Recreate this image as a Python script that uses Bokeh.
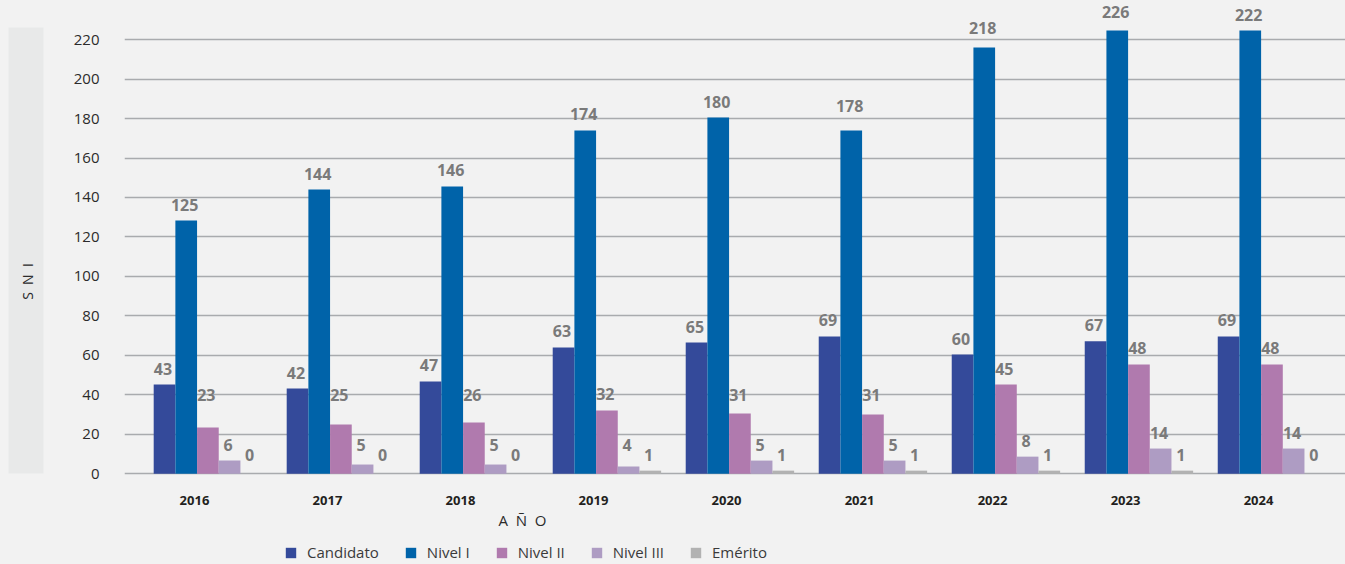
import numpy as np
from bokeh.plotting import figure
from bokeh.layouts import row
from bokeh.models import Range1d, FixedTicker, ColumnDataSource, Legend, LegendItem, Label
from bokeh.core.properties import value
from bokeh.embed import file_html
from bokeh.resources import INLINE

# ---------------- data ----------------
years = ["2016", "2017", "2018", "2019", "2020", "2021", "2022", "2023", "2024"]
series = ["Candidato", "Nivel I", "Nivel II", "Nivel III", "Emérito"]

# bar heights as drawn in the picture
candidato = [45.2, 43.2, 46.8, 64.0, 66.5, 69.6, 60.4, 67.1, 69.6]
nivel_1 = [128.3, 144.0, 145.6, 173.9, 180.5, 173.9, 216.0, 224.6, 224.6]
nivel_2 = [23.5, 25.0, 26.0, 32.1, 30.5, 30.0, 45.2, 55.4, 55.4]
nivel_3 = [6.7, 4.7, 4.7, 3.7, 6.7, 6.7, 8.7, 12.8, 12.8]
emerito = [0, 0, 0, 1.6, 1.6, 1.6, 1.6, 1.6, 0]

# value labels printed above the bars
labels_candidato = [43, 42, 47, 63, 65, 69, 60, 67, 69]
labels_nivel_1 = [125, 144, 146, 174, 180, 178, 218, 226, 222]
labels_nivel_2 = [23, 25, 26, 32, 31, 31, 45, 48, 48]
labels_nivel_3 = [6, 5, 5, 4, 5, 5, 8, 14, 14]
labels_emerito = [0, 0, 0, 1, 1, 1, 1, 1, 0]

y_ticks = [0, 20, 40, 60, 80, 100, 120, 140, 160, 180, 200, 220]

# ---------------- style ----------------
BG = "#F2F2F2"
BAND = "#E8E9E9"
colors = ["#344A9A", "#0063A9", "#B07AAE", "#AE9CC3", "#B2B2B2"]
offsets = [-0.225, -0.062, 0.101, 0.264, 0.427]
bar_w = 0.163
label_floor = [0, 0, 32, 6.5, 1.2]
FONT = "Open Sans"
NB = "\u00a0"

values_all = [candidato, nivel_1, nivel_2, nivel_3, emerito]
labels_all = [labels_candidato, labels_nivel_1, labels_nivel_2, labels_nivel_3, labels_emerito]

# ---------------- main figure ----------------
p = figure(width=1293, height=564,
           x_range=Range1d(-0.526, 8.654), y_range=Range1d(-45.95, 239.8),
           output_backend="svg", toolbar_location=None,
           min_border_left=72, min_border_right=0, min_border_top=0, min_border_bottom=0,
           background_fill_color=BG, border_fill_color=BG, outline_line_color=None)

p.xgrid.visible = False
p.ygrid.ticker = FixedTicker(ticks=y_ticks)
p.ygrid.grid_line_color = "#A9ABAE"
p.ygrid.grid_line_width = 1.5

p.yaxis.ticker = FixedTicker(ticks=y_ticks)
p.yaxis.axis_line_color = None
p.yaxis.major_tick_line_color = None
p.yaxis.minor_tick_line_color = None
p.yaxis.major_label_standoff = 19
p.yaxis.major_label_text_font = FONT
p.yaxis.major_label_text_font_size = "15px"
p.yaxis.major_label_text_color = "#2B2B2B"

idx = np.arange(len(years))
p.xaxis.fixed_location = 0
p.xaxis.ticker = FixedTicker(ticks=list(idx))
p.xaxis.major_label_overrides = {int(i): y for i, y in zip(idx, years)}
p.xaxis.axis_line_color = None
p.xaxis.major_tick_line_color = None
p.xaxis.minor_tick_line_color = None
p.xaxis.major_label_standoff = 16
p.xaxis.major_label_text_font = FONT
p.xaxis.major_label_text_font_size = "13px"
p.xaxis.major_label_text_font_style = "bold"
p.xaxis.major_label_text_color = "#231F20"

items = []
for j, name in enumerate(series):
    vals = np.array(values_all[j], dtype=float)
    labs = np.array(labels_all[j], dtype=float)
    xs = idx + offsets[j]
    src = ColumnDataSource(dict(x=xs, top=vals))
    r = p.vbar(x="x", top="top", width=bar_w, bottom=0, source=src,
               fill_color=colors[j], line_color=None)
    items.append(LegendItem(label=name, renderers=[r]))
    anchor = np.maximum(np.maximum(vals, labs if j < 2 else 0), label_floor[j])
    tsrc = ColumnDataSource(dict(x=xs - 0.012, y=anchor, t=[str(v) for v in labels_all[j]]))
    p.text(x="x", y="y", text="t", source=tsrc, y_offset=-16,
           text_align="center", text_baseline="middle",
           text_font=value(FONT), text_font_style="bold", text_font_size="16px",
           text_color="#7A7A7A")

p.add_layout(Label(x=2.466, y=-23.2, text="A" + NB * 2 + "Ñ" + NB * 2 + "O",
                   text_align="center", text_baseline="middle",
                   text_font=FONT, text_font_size="15px", text_color="#2B2B2B"))

legend = Legend(items=items, orientation="horizontal", location=(160, 2),
                background_fill_alpha=0, border_line_color=None,
                padding=0, margin=0, spacing=25, label_standoff=10,
                glyph_width=13, glyph_height=13,
                label_text_font=FONT, label_text_font_size="15px",
                label_text_color="#3A3A3A")
p.add_layout(legend)

# ---------------- left band with axis title ----------------
band = figure(width=52, height=564, x_range=Range1d(0, 52), y_range=Range1d(564, 0),
              output_backend="svg", toolbar_location=None,
              x_axis_type=None, y_axis_type=None,
              min_border_left=0, min_border_right=0, min_border_top=0, min_border_bottom=0,
              background_fill_color=BG, border_fill_color=BG, outline_line_color=None)
band.grid.visible = False
band.quad(left=[8], right=[43], top=[27], bottom=[473], fill_color=BAND, line_color=None)
band.text(x=[27], y=[281], text=["S" + NB * 2 + "N" + NB * 2 + "I"], angle=np.pi / 2,
          text_align="center", text_baseline="middle",
          text_font=value(FONT), text_font_size="14px", text_color="#2B2B2B")

layout = row(band, p, spacing=0)

html = file_html(layout, INLINE)
html = html.replace("</head>", "<style>html, body { background-color: #F2F2F2; }</style></head>", 1)
open("out.html", "w").write(html)
